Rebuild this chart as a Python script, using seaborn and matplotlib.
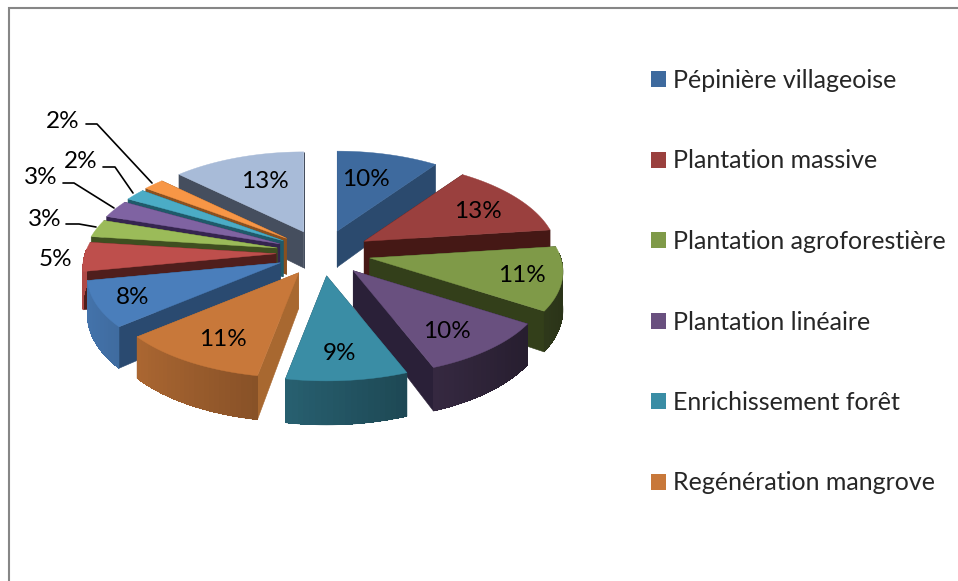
import numpy as np
import matplotlib
matplotlib.use("Agg")
import matplotlib.pyplot as plt
from matplotlib.patches import Polygon, Patch
import seaborn as sns

# ---- data ----
shares = [10, 13, 11, 10, 9, 11, 8, 5, 3, 3, 2, 2, 13]
share_labels = ["10%", "13%", "11%", "10%", "9%", "11%", "8%", "5%", "3%", "3%", "2%", "2%", "13%"]
legend_labels = ["Pépinière villageoise", "Plantation massive", "Plantation agroforestière",
                 "Plantation linéaire", "Enrichissement forêt", "Regénération mangrove"]
top_colors = ["#3E6A9E", "#9A403E", "#7F9A48", "#69507F", "#3A8DA5", "#C8783A",
              "#4A7EBB", "#BE4F4C", "#9BBB59", "#7F63A2", "#4BACC6", "#F79646", "#A8BBD8"]
side_colors = ["#2B4A6E", "#451815", "#333F1A", "#2A2038", "#235060", "#A86830",
               "#2A4A70", "#4F1E1C", "#3F4F20", "#35254F", "#1F5A6A", "#8A5020", "#454E5E"]

# ---- layout (pixels) ----
label_xy = [(366, 180), (478, 211), (522, 275), (447, 332), (340, 353), (223, 339), (133, 297),
            (55, 260), (45, 220), (41, 178), (81, 162), (63, 121), (265, 181)]
leaders = {8: [(66, 224), (79, 224), (96, 227)],
           9: [(63, 183), (74, 183), (114, 208)],
           10: [(103, 167), (115, 167), (133, 193)],
           11: [(86, 124), (97, 124), (152, 183)]}
CX, CY = 322, 253
EXPX_R, EXPX_L, EXPY = 49, 46, 23
FONT = "Lato"

sns.set_theme(style="white")
plt.rcParams["font.family"] = [FONT, "DejaVu Sans"]

fig = plt.figure(figsize=(9.58, 5.81), dpi=100, facecolor="white")
ax = fig.add_axes([0, 0, 1, 1])
ax.set_xlim(0, 958)
ax.set_ylim(581, 0)
ax.axis("off")

ax.plot([9, 9, 958], [581, 8, 8], color="#868686", lw=1.5, solid_joinstyle="miter", zorder=1)


def depth(w):
    return 37 + 7 * w


def shade(color, f):
    r = np.array(matplotlib.colors.to_rgb(color)) * min(max(f, 0), 1)
    return tuple(r)


fractions = np.array(shares, dtype=float) / sum(shares)
edges = np.concatenate([[0], np.cumsum(fractions)]) * 2 * np.pi
mids = (edges[:-1] + edges[1:]) / 2
order = np.argsort(-np.cos(mids))

z = 2.0
for i in order:
    a0, a1 = edges[i], edges[i + 1]
    mid = mids[i]
    sx = np.sin(mid)
    apex = np.array([CX + (EXPX_R if sx > 0 else EXPX_L) * sx, CY - EXPY * np.cos(mid)])
    th = np.linspace(a0, a1, max(int(np.degrees(a1 - a0) / 1.5), 2) + 1)
    u, w = np.sin(th), -np.cos(th)
    rx = apex[0] + u * (191 + 29 * w)
    ry = apex[1] + w * (92.5 + 12.5 * w)
    d = depth(w)
    apex_d = 36
    # radial sides
    for k in (0, -1):
        poly = [apex, (rx[k], ry[k]), (rx[k], ry[k] + d[k]), (apex[0], apex[1] + apex_d)]
        ax.add_patch(Polygon(poly, closed=True, fc=side_colors[i], ec=side_colors[i], lw=0.4, zorder=z))
    z += 0.01
    # curved outer wall, front half only: solid backing, then shaded slices
    front = w >= -0.05
    if front.sum() >= 2:
        fu = u[front]
        base = shade(top_colors[i], 0.62 - 0.3 * fu.mean())
        outline = list(zip(rx[front], ry[front])) + list(zip(rx[front][::-1], (ry + d)[front][::-1]))
        ax.add_patch(Polygon(outline, closed=True, fc=base, ec=base, lw=0.4, zorder=z))
        z += 0.01
        idx = np.where(front)[0]
        for k in idx[:-1]:
            c = shade(top_colors[i], 0.62 - 0.3 * (u[k] + u[k + 1]) / 2)
            poly = [(rx[k], ry[k]), (rx[k + 1], ry[k + 1]), (rx[k + 1], ry[k + 1] + d[k + 1]), (rx[k], ry[k] + d[k])]
            ax.add_patch(Polygon(poly, closed=True, fc=c, ec="none", lw=0, antialiased=False, zorder=z))
    z += 0.01
    # top face
    poly = [apex] + list(zip(rx, ry))
    ax.add_patch(Polygon(poly, closed=True, fc=top_colors[i], ec=top_colors[i], lw=0.3, zorder=z))
    z += 0.01

for (x, y), t in zip(label_xy, share_labels):
    ax.text(x, y, t, ha="center", va="center", fontsize=17.5, color="black", zorder=10)

for pts in leaders.values():
    xs, ys = zip(*pts)
    ax.plot(xs, ys, color="black", lw=1.2, zorder=9)

handles = [Patch(fc=c, ec="none") for c in top_colors[:6]]
fs = 18
px = fs * 100 / 72
ax.legend(handles, legend_labels, loc="upper left", bbox_to_anchor=(651 / 958, 1 - 69 / 581),
          bbox_transform=fig.transFigure, frameon=False, fontsize=fs, borderpad=0, borderaxespad=0,
          handlelength=15 / px, handleheight=15 / px, handletextpad=7 / px, labelspacing=2.3)

fig.savefig("out.png", dpi=100)
